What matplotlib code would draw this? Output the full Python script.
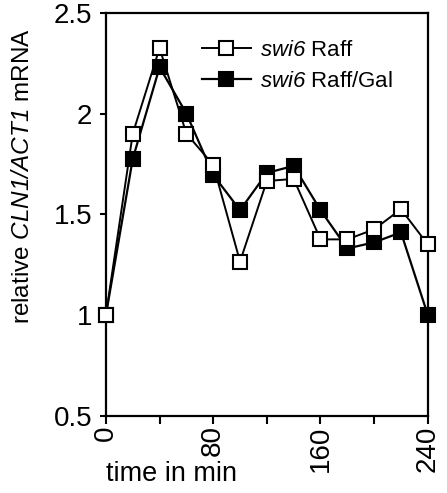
import matplotlib.pyplot as plt
from matplotlib.lines import Line2D

plt.rcParams['font.family'] = ['Liberation Sans', 'DejaVu Sans']
plt.rcParams['mathtext.fontset'] = 'custom'
plt.rcParams['mathtext.rm'] = 'Liberation Sans'
plt.rcParams['mathtext.sf'] = 'Liberation Sans:italic'

# time points (min)
time = [0, 20, 40, 60, 80, 100, 120, 140, 160, 180, 200, 220, 240]
# swi6 Raff (open squares)
raff = [1.0, 1.90, 2.325, 1.90, 1.745, 1.265, 1.665, 1.675, 1.375, 1.375, 1.425, 1.525, 1.35]
# swi6 Raff/Gal (filled squares)
raff_gal = [1.0, 1.775, 2.23, 2.0, 1.695, 1.52, 1.705, 1.74, 1.52, 1.33, 1.36, 1.41, 1.0]

xticks = [0, 80, 160, 240]
xminor = [40, 120, 200]
yticks = [0.5, 1, 1.5, 2, 2.5]
yticklabels = ['0.5', '1', '1.5', '2', '2.5']

fig = plt.figure(figsize=(4.47, 4.93), dpi=100)
ax = fig.add_axes([0.237, 0.157, 0.72, 0.817])

ax.plot(time, raff_gal, color='black', lw=1.6, marker='s', ms=9.5,
        mfc='black', mec='black', mew=1.5, clip_on=False, zorder=3)
ax.plot(time, raff, color='black', lw=1.4, marker='s', ms=9.5,
        mfc='white', mec='black', mew=1.5, clip_on=False, zorder=4)

ax.set_xlim(0, 240)
ax.set_ylim(0.5, 2.5)
ax.set_xticks(xticks)
ax.set_xticks(xminor, minor=True)
ax.set_xticklabels([str(t) for t in xticks], rotation=90, fontsize=20)
ax.set_yticks(yticks)
ax.set_yticklabels(yticklabels, fontsize=20)
ax.tick_params(axis='x', which='both', direction='out', length=6, width=1.5, pad=1)
ax.tick_params(axis='y', direction='out', length=4, width=1.5, pad=6)

for s in ax.spines.values():
    s.set_linewidth(1.6)

ax.set_xlabel('time in min', fontsize=19.5)
ax.xaxis.set_label_coords(0.204, -0.113)
ax.set_ylabel(r'relative $\mathsf{CLN1/ACT1}$ mRNA', fontsize=17.5)
ax.yaxis.set_label_coords(-0.222, 0.595)

h1 = Line2D([], [], color='black', lw=1.4, marker='s', ms=9.5, mfc='white', mec='black', mew=1.5)
h2 = Line2D([], [], color='black', lw=1.6, marker='s', ms=9.5, mfc='black', mec='black', mew=1.5)
ax.legend([h1, h2], [r'$\mathsf{swi6}$ Raff', r'$\mathsf{swi6}$ Raff/Gal'],
          loc='upper left', bbox_to_anchor=(0.27, 0.955), frameon=False,
          fontsize=16, handlelength=2.2, handletextpad=0.4, labelspacing=0.45,
          borderaxespad=0)

fig.savefig('out.png', dpi=100)
